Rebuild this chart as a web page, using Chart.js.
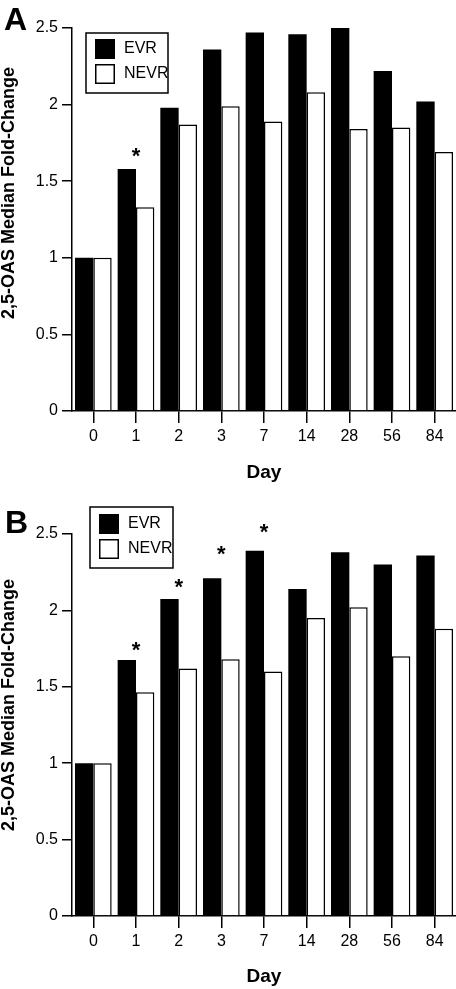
<!DOCTYPE html>
<html><head><meta charset="utf-8">
<script src="https://cdn.jsdelivr.net/npm/chart.js@4/dist/chart.umd.min.js"></script>
<style>
html,body{margin:0;padding:0;background:#fff;}
#wrap{position:relative;width:456px;height:989px;overflow:hidden;background:#fff;}
.panel{position:absolute;left:0;width:456px;}
#pA{top:0;height:490px;}
#pB{top:490px;height:499px;}
canvas{display:block;}
</style></head><body>
<div id="wrap">
<div class="panel" id="pA"><canvas id="cA" width="456" height="490"></canvas></div>
<div class="panel" id="pB"><canvas id="cB" width="456" height="499"></canvas></div>
</div>
<script>
// ---- data ----
const days = ['0','1','2','3','7','14','28','56','84'];
const evrA  = [1.00, 1.58, 1.98, 2.36, 2.47, 2.46, 2.50, 2.22, 2.02];
const nevrA = [1.00, 1.33, 1.87, 1.99, 1.89, 2.08, 1.84, 1.85, 1.69];
const evrB  = [1.00, 1.675, 2.075, 2.21, 2.39, 2.14, 2.38, 2.30, 2.36];
const nevrB = [1.00, 1.465, 1.62, 1.68, 1.60, 1.95, 2.02, 1.70, 1.88];
// level (in fold-change units) of the significance asterisk per day, null = none
const starA = [null, 1.70, null, null, null, null, null, null, null];
const starB = [null, 1.78, 2.19, 2.41, 2.55, null, null, null, null];
const yTicks = [0, 0.5, 1, 1.5, 2, 2.5];
const yTickLabels = ['0', '0.5', '1', '1.5', '2', '2.5'];
const seriesNames = ['EVR', 'NEVR'];
const yTitle = '2,5-OAS Median Fold-Change';
const xTitle = 'Day';

const FAM = '"Liberation Sans", Arial, Helvetica, sans-serif';

function overlay(L){
  return {
    id: 'overlay' + L.letter,
    afterDraw(chart){
      const ctx = chart.ctx, xs = chart.scales.x, ys = chart.scales.y;
      ctx.save();
      ctx.fillStyle = '#000';
      // panel letter
      ctx.font = 'bold 32px ' + FAM;
      ctx.textAlign = 'left'; ctx.textBaseline = 'alphabetic';
      ctx.fillText(L.letter, L.letterX, L.letterY);
      // y title
      ctx.save();
      ctx.translate(L.titleX, L.titleY);
      ctx.rotate(-Math.PI/2);
      ctx.font = 'bold 18px ' + FAM;
      ctx.textAlign = 'center'; ctx.textBaseline = 'middle';
      ctx.fillText(yTitle, 0, 0);
      ctx.restore();
      // asterisks
      ctx.font = 'bold 22px ' + FAM;
      ctx.textAlign = 'center'; ctx.textBaseline = 'alphabetic';
      L.stars.forEach((v, i) => {
        if (v == null) return;
        const x = xs.getPixelForValue(i);
        const y = ys.getPixelForValue(v);
        ctx.fillText('*', x, y + 0.58 * 22);
      });
      // legend
      const g = L.legend;
      ctx.lineWidth = 1.5; ctx.strokeStyle = '#000';
      ctx.fillStyle = '#fff';
      ctx.fillRect(g.x, g.y, g.w, g.h);
      ctx.strokeRect(g.x, g.y, g.w, g.h);
      ctx.fillStyle = '#000';
      ctx.fillRect(g.sx, g.s1y, g.sw, g.sh);
      ctx.fillStyle = '#fff';
      ctx.fillRect(g.sx, g.s2y, g.sw, g.sh);
      ctx.strokeRect(g.sx + 0.75, g.s2y + 0.75, g.sw - 1.5, g.sh - 1.5);
      ctx.fillStyle = '#000';
      ctx.font = '16px ' + FAM;
      ctx.textAlign = 'left'; ctx.textBaseline = 'middle';
      ctx.fillText(seriesNames[0], g.tx, g.s1y + g.sh/2);
      ctx.fillText(seriesNames[1], g.tx, g.s2y + g.sh/2);
      ctx.restore();
    }
  };
}

function makeChart(id, evr, nevr, L){
  return new Chart(document.getElementById(id), {
    type: 'bar',
    data: {
      labels: days,
      datasets: [
        {label: seriesNames[0], data: evr, backgroundColor: '#000', borderWidth: 0,
         categoryPercentage: 0.86, barPercentage: 1.0},
        {label: seriesNames[1], data: nevr, backgroundColor: '#fff', borderColor: '#000', borderWidth: 1.5,
         categoryPercentage: 0.86, barPercentage: 1.0}
      ]
    },
    options: {
      responsive: false,
      animation: false,
      devicePixelRatio: 1,
      layout: {padding: {top: L.padTop, left: 0, right: 0, bottom: 0}},
      plugins: {legend: {display: false}, tooltip: {enabled: false}},
      scales: {
        x: {
          type: 'category', offset: true,
          grid: {offset: false, drawOnChartArea: false, drawTicks: true, tickLength: 12, color: '#000', lineWidth: 1.5},
          border: {display: true, color: '#000', width: 1.5},
          ticks: {color: '#000', font: {family: FAM, size: 16}, padding: 4, maxRotation: 0, autoSkip: false},
          title: {display: true, text: xTitle, color: '#000', font: {family: FAM, size: 19, weight: 'bold'},
                  padding: {top: 0, bottom: L.dayPad}},
          afterFit(s){ s.height = L.xH; }
        },
        y: {
          min: 0, max: 2.5,
          grid: {drawOnChartArea: false, drawTicks: true, tickLength: 10, color: '#000', lineWidth: 1.5},
          border: {display: true, color: '#000', width: 1.5},
          ticks: {color: '#000', font: {family: FAM, size: 16}, padding: 4,
                  callback: (v) => yTickLabels[yTicks.indexOf(v)] ?? String(v)},
          afterBuildTicks(s){ s.ticks = yTicks.map(v => ({value: v})); },
          afterFit(s){ s.width = 72; }
        }
      }
    },
    plugins: [overlay(L)]
  });
}

makeChart('cA', evrA, nevrA, {
  letter: 'A', letterX: 4, letterY: 30, titleX: 9, titleY: 193, stars: starA,
  padTop: 28, xH: 79, dayPad: 6,
  legend: {x: 86, y: 33, w: 82, h: 60, sx: 95, sw: 20, sh: 20, s1y: 39, s2y: 64, tx: 124}
});
makeChart('cB', evrB, nevrB, {
  letter: 'B', letterX: 5, letterY: 43, titleX: 9, titleY: 215, stars: starB,
  padTop: 44, xH: 73, dayPad: 1,
  legend: {x: 90, y: 17, w: 83, h: 61, sx: 99, sw: 20, sh: 20, s1y: 24, s2y: 49, tx: 128}
});
</script>
</body></html>
